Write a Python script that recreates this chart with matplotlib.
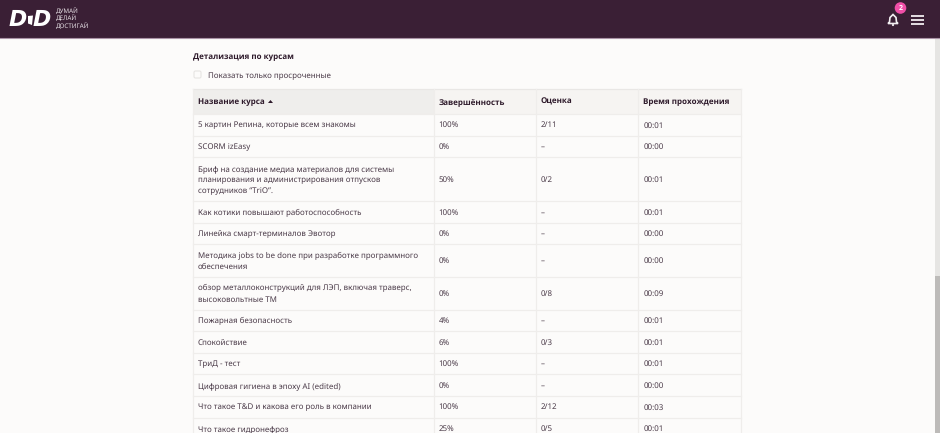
import matplotlib
matplotlib.use("Agg")
import matplotlib.pyplot as plt
from matplotlib.patches import Rectangle, Circle, Polygon, FancyBboxPatch

plt.rcParams['font.family'] = ['Noto Sans', 'Open Sans', 'DejaVu Sans']
plt.rcParams['text.hinting'] = 'no_hinting'
plt.rcParams['text.hinting_factor'] = 1

title = "Детализация по курсам"
filter_label = "Показать только просроченные"
headers = ["Название курса", "Завершённость", "Оценка", "Время прохождения"]
courses = [
    "5 картин Репина, которые всем знакомы",
    "SCORM izEasy",
    "Бриф на создание медиа материалов для системы\nпланирования и администрирования отпусков\nсотрудников “TriO”.",
    "Как котики повышают работоспособность",
    "Линейка смарт-терминалов Эвотор",
    "Методика jobs to be done при разработке программного\nобеспечения",
    "обзор металлоконструкций для ЛЭП, включая траверс,\nвысоковольтные ТМ",
    "Пожарная безопасность",
    "Спокойствие",
    "ТриД - тест",
    "Цифровая гигиена в эпоху AI (edited)",
    "Что такое T&D и какова его роль в компании",
    "Что такое гидронефроз",
]
completion = ["100%", "0%", "50%", "100%", "0%", "0%", "0%", "4%", "6%", "100%", "0%", "100%", "25%"]
grades = ["2/11", "–", "0/2", "–", "–", "–", "0/8", "–", "0/3", "–", "–", "2/12", "0/5"]
times = ["00:01", "00:00", "00:01", "00:01", "00:00", "00:00", "00:09", "00:01", "00:01", "00:01", "00:00", "00:03", "00:01"]

W, H = 940, 433
fig = plt.figure(figsize=(W / 100, H / 100), dpi=100, facecolor="#fcfbfa")
ax = fig.add_axes([0, 0, 1, 1])
ax.set_xlim(0, W)
ax.set_ylim(H, 0)
ax.axis("off")

PLUM = "#3a1f35"
INK = "#4a3a48"
HEAD = "#2e1a2b"
GRID = "#efedeb"
FS = 5.72
BFS = 5.72
BOLD = ['Open Sans', 'DejaVu Sans']

# top bar
ax.add_patch(Rectangle((0, 0), W, 38, fc=PLUM, ec="none", zorder=5))
ax.plot([0, W], [38.3, 38.3], color="#a993a6", lw=0.8, zorder=5)
ax.text(9, 20, "D", color="white", fontsize=15.5, fontweight="bold", style="italic",
        family="DejaVu Sans", va="center", zorder=6)
ax.add_patch(Polygon([[28, 16], [33, 15.5], [32, 25], [28, 23.5]], fc="white", ec="none", zorder=6))
ax.text(33, 20, "D", color="white", fontsize=15.5, fontweight="bold", style="italic",
        family="DejaVu Sans", va="center", zorder=6)
for yy, s in zip([11, 18.5, 26], ["ДУМАЙ", "ДЕЛАЙ", "ДОСТИГАЙ"]):
    ax.text(56, yy, s, color="#e8e2e7", fontsize=4.5, va="center", zorder=6)

# bell
ax.add_patch(Polygon([[889.5, 22], [890, 17.5], [893, 14.5], [896, 17.5], [896.5, 22], [898, 23.5], [888, 23.5]],
                     fc="none", ec="#f2eef1", lw=1.2, zorder=6))
ax.add_patch(Circle((893, 25), 1.1, fc="#f2eef1", ec="none", zorder=6))
ax.add_patch(Circle((900.5, 8), 5.8, fc="#f04fa8", ec="none", zorder=7))
ax.text(900.5, 8, "2", color="white", fontsize=5, fontweight="bold", family=BOLD, ha="center", va="center", zorder=8)
for yy in [15.5, 19.5, 23.5]:
    ax.plot([910.5, 923.5], [yy, yy], color="#f2eef1", lw=1.3, zorder=6, solid_capstyle="butt")

# scrollbar
ax.add_patch(Rectangle((935, 38.5), 5, 238, fc="#e6e5e3", ec="none"))
ax.add_patch(Rectangle((935, 276), 5, 157, fc="#bdbbb9", ec="none"))

# headings
ax.text(193, 59, title, color=HEAD, fontsize=BFS, fontweight="bold", family=BOLD, va="baseline")
ax.add_patch(FancyBboxPatch((194, 71), 7, 7, boxstyle="round,pad=0,rounding_size=1.5",
                            fc="#fcfbfa", ec="#e6e4e2", lw=0.8))
ax.text(208, 78, filter_label, color=INK, fontsize=FS, va="baseline")

# table
col_x = [193, 433.5, 535.7, 638.3, 741]
pad = 5.0
top, head_h = 88.5, 25.5
base_off = 2.6
line_h = 11.2
ax.add_patch(Rectangle((col_x[0], top), col_x[1] - col_x[0], head_h, fc="#efeeec", ec="none"))
ax.add_patch(Rectangle((col_x[1], top), col_x[4] - col_x[1], head_h, fc="#f6f4f2", ec="none"))
for i, h in enumerate(headers):
    ax.text(col_x[i] + pad, top + head_h / 2 + base_off, h, color=HEAD, fontsize=BFS,
            fontweight="bold", family=BOLD, va="baseline")
ax.add_patch(Polygon([[268, 103], [273, 103], [270.5, 100]], fc=HEAD, ec="none"))

heights = {1: 21.6, 2: 32.6, 3: 44.0}
y = top + head_h
ax.plot([col_x[0], col_x[4]], [y, y], color=GRID, lw=0.9)
ax.plot([col_x[0], col_x[4]], [top, top], color="#e9e7e5", lw=0.9)
for course, c, g, t in zip(courses, completion, grades, times):
    lines = course.split("\n")
    h = heights[len(lines)]
    mid = y + h / 2
    first = mid + base_off - (len(lines) - 1) * line_h / 2
    for k, line in enumerate(lines):
        ax.text(col_x[0] + pad, first + k * line_h, line, color=INK, fontsize=FS, va="baseline")
    for cx, val in zip(col_x[1:4], (c, g, t)):
        ax.text(cx + pad, mid + base_off, val, color=INK, fontsize=FS, va="baseline")
    y += h
    ax.plot([col_x[0], col_x[4]], [y, y], color=GRID, lw=0.9)
for cx in col_x:
    ax.plot([cx, cx], [top, H], color=GRID, lw=0.9)

fig.savefig("out.png", dpi=100, facecolor=fig.get_facecolor())
